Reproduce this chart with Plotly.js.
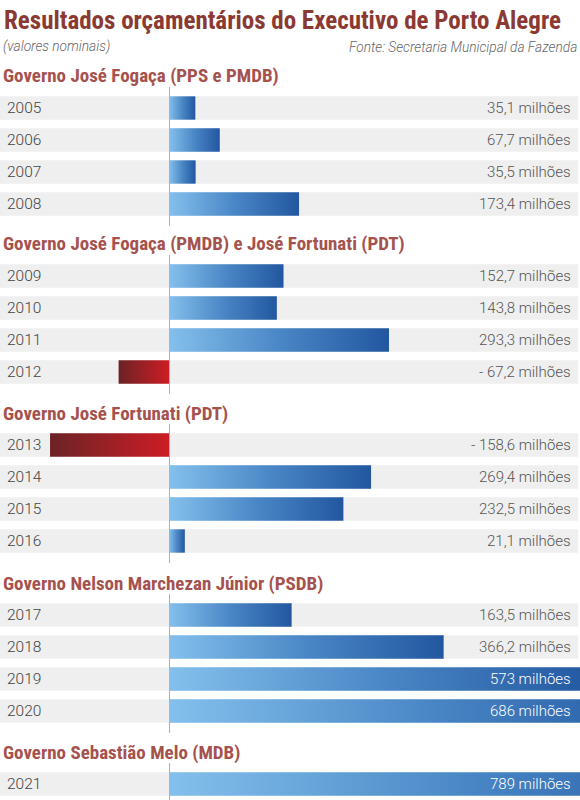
<!DOCTYPE html>
<html>
<head>
<meta charset="utf-8">
<script src="https://cdn.plot.ly/plotly-3.0.1.min.js"></script>
<style>
  html, body { margin: 0; padding: 0; background: #fff; }
  #chart { width: 580px; height: 800px; }
</style>
</head>
<body>
<svg width="0" height="0" style="position:absolute">
  <defs>
    <linearGradient id="gBlue" x1="0" y1="0" x2="1" y2="0">
      <stop offset="0" stop-color="#84c0ec"/>
      <stop offset="0.5" stop-color="#4a87c6"/>
      <stop offset="1" stop-color="#2257a0"/>
    </linearGradient>
    <linearGradient id="gRed" x1="0" y1="0" x2="1" y2="0">
      <stop offset="0" stop-color="#6b2326"/>
      <stop offset="1" stop-color="#cc1d24"/>
    </linearGradient>
  </defs>
</svg>
<div id="chart"></div>
<script>
// ---- Data ----
const mainTitle = 'Resultados orçamentários do Executivo de Porto Alegre';
const subTitle = '(valores nominais)';
const sourceText = 'Fonte: Secretaria Municipal da Fazenda';

const groupTitles = [
  'Governo José Fogaça (PPS e PMDB)',
  'Governo José Fogaça (PMDB) e José Fortunati (PDT)',
  'Governo José Fortunati (PDT)',
  'Governo Nelson Marchezan Júnior (PSDB)',
  'Governo Sebastião Melo (MDB)'
];

const years1 = ['2005', '2006', '2007', '2008'];
const values1 = [35.1, 67.7, 35.5, 173.4];

const years2 = ['2009', '2010', '2011', '2012'];
const values2 = [152.7, 143.8, 293.3, -67.2];

const years3 = ['2013', '2014', '2015', '2016'];
const values3 = [-158.6, 269.4, 232.5, 21.1];

const years4 = ['2017', '2018', '2019', '2020'];
const values4 = [163.5, 366.2, 573, 686];

const years5 = ['2021'];
const values5 = [789];

const valueLabels1 = ['35,1 milhões', '67,7 milhões', '35,5 milhões', '173,4 milhões'];
const valueLabels2 = ['152,7 milhões', '143,8 milhões', '293,3 milhões', '- 67,2 milhões'];
const valueLabels3 = ['- 158,6 milhões', '269,4 milhões', '232,5 milhões', '21,1 milhões'];
const valueLabels4 = ['163,5 milhões', '366,2 milhões', '573 milhões', '686 milhões'];
const valueLabels5 = ['789 milhões'];

// ---- Layout helpers ----
const W = 580, H = 800;
const ZERO_PX = 169, SCALE = 0.75;            // px position of zero, px per unit
const XMIN = -ZERO_PX / SCALE, XMAX = (W - ZERO_PX) / SCALE;
const PITCH = 32;                               // px between rows
const titleCenters = [76, 244, 413, 583, 752];  // px from top
const groups = [
  [years1, values1, valueLabels1],
  [years2, values2, valueLabels2],
  [years3, values3, valueLabels3],
  [years4, values4, valueLabels4],
  [years5, values5, valueLabels5]
];

const BLUE = 'rgb(42, 99, 171)';
const RED = 'rgb(200, 29, 36)';
const titleFont = '"Liberation Sans Narrow", "Roboto Condensed", Roboto, sans-serif';

const traces = [];
const shapes = [];
const annotations = [];
const layout = {
  width: W, height: H,
  margin: {l: 0, r: 0, t: 0, b: 0},
  paper_bgcolor: '#fff', plot_bgcolor: 'rgba(0,0,0,0)',
  showlegend: false,
  barmode: 'overlay',
  xaxis: {
    range: [XMIN, XMAX], domain: [0, 1],
    showgrid: false, showticklabels: false, ticks: '',
    zeroline: true, zerolinecolor: '#b0b0b0', zerolinewidth: 1,
    showline: false, fixedrange: true
  },
  shapes: shapes,
  annotations: annotations
};

groups.forEach(([yrs, vals, labs], g) => {
  const axName = g === 0 ? 'yaxis' : 'yaxis' + (g + 1);
  const axRef = g === 0 ? 'y' : 'y' + (g + 1);
  const T = titleCenters[g];
  const row0 = T + PITCH;
  const topPx = T + 11;
  const botPx = Math.min(T + 150, H);
  layout[axName] = {
    type: 'category', categoryarray: yrs, categoryorder: 'array',
    domain: [1 - botPx / H, 1 - topPx / H],
    range: [(botPx - row0) / PITCH, -(row0 - topPx) / PITCH],
    anchor: 'x',
    showgrid: false, zeroline: false, showline: false, ticks: '',
    ticklabelposition: 'inside', ticklabelstandoff: 4,
    tickfont: {family: 'Roboto, sans-serif', size: 15.5, color: '#444', weight: 300},
    fixedrange: true
  };
  // gray row bands
  yrs.forEach((y, i) => {
    shapes.push({
      type: 'rect', layer: 'below', xref: 'paper', yref: axRef,
      x0: 0, x1: 0.997, y0: i - 0.365, y1: i + 0.365,
      fillcolor: '#efefef', line: {width: 0}
    });
  });
  traces.push({
    type: 'bar', orientation: 'h',
    x: vals, y: yrs, xaxis: 'x', yaxis: axRef,
    width: 0.73,
    marker: {color: vals.map(v => v < 0 ? RED : BLUE), line: {width: 0}},
    hoverinfo: 'skip'
  });
  // value labels (y given as category index)
  yrs.forEach((y, i) => {
    const barEndPx = ZERO_PX + vals[i] * SCALE;
    annotations.push({
      xref: 'paper', yref: axRef, x: 573 / W, y: i,
      xanchor: 'right', yanchor: 'middle', showarrow: false,
      text: labs[i],
      font: {family: 'Roboto, sans-serif', size: 15, weight: 300,
             color: barEndPx > 560 ? '#ffffff' : '#555'}
    });
  });
  // group title
  annotations.push({
    xref: 'paper', yref: 'paper', x: 1 / W, y: 1 - T / H,
    xanchor: 'left', yanchor: 'middle', showarrow: false,
    text: groupTitles[g],
    font: {family: titleFont, size: 19, weight: 700, color: '#a5524e'}
  });
});

annotations.push({
  xref: 'paper', yref: 'paper', x: 2 / W, y: 1 - 20 / H,
  xanchor: 'left', yanchor: 'middle', showarrow: false,
  text: mainTitle,
  font: {family: titleFont, size: 25, weight: 700, color: '#8b3a33'}
});
annotations.push({
  xref: 'paper', yref: 'paper', x: 1 / W, y: 1 - 47 / H,
  xanchor: 'left', yanchor: 'middle', showarrow: false,
  text: subTitle,
  font: {family: 'Roboto, sans-serif', size: 13.7, style: 'italic', weight: 300, color: '#666'}
});
annotations.push({
  xref: 'paper', yref: 'paper', x: 579 / W, y: 1 - 47 / H,
  xanchor: 'right', yanchor: 'middle', showarrow: false,
  text: sourceText,
  font: {family: 'Roboto, sans-serif', size: 13.7, style: 'italic', weight: 300, color: '#666'}
});

const gd = document.getElementById('chart');
Plotly.newPlot(gd, traces, layout, {staticPlot: true, displayModeBar: false}).then(() => {
  gd.querySelectorAll('.barlayer .point path').forEach(p => {
    const f = p.style.fill || '';
    p.style.fill = f.indexOf('200') >= 0 ? 'url(#gRed)' : 'url(#gBlue)';
  });
});
</script>
</body>
</html>
